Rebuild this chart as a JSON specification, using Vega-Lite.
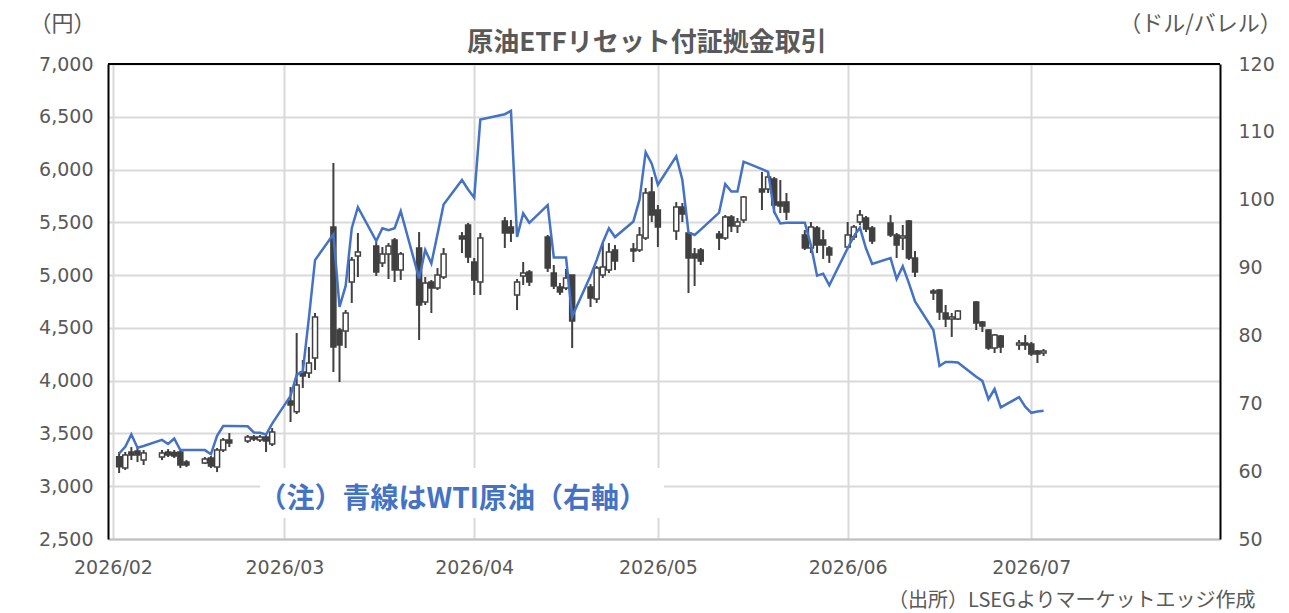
{
 "$schema": "https://vega.github.io/schema/vega-lite/v6.json",
 "width": 1112,
 "height": 475,
 "autosize": {"type": "none"},
 "padding": {"left": 108, "top": 64, "right": 69, "bottom": 74},
 "background": "white",
 "config": {"view": {"stroke": null}, "font": "DejaVu Sans"},
 "title": {"text": "原油ETFリセット付証拠金取引", "font": "Noto Sans CJK JP", "fontSize": 26, "fontWeight": "bold", "color": "#595959", "anchor": "middle", "offset": 10, "dx": -17, "dy": 54},
 "datasets": {
  "etf": [
   {"date":"2026-02-02","o":3280,"h":3324,"l":3125,"c":3185},
   {"date":"2026-02-03","o":3172,"h":3324,"l":3154,"c":3296},
   {"date":"2026-02-04","o":3324,"h":3371,"l":3248,"c":3296},
   {"date":"2026-02-05","o":3334,"h":3371,"l":3229,"c":3296},
   {"date":"2026-02-06","o":3248,"h":3343,"l":3201,"c":3315},
   {"date":"2026-02-09","o":3277,"h":3343,"l":3248,"c":3315},
   {"date":"2026-02-10","o":3324,"h":3352,"l":3277,"c":3296},
   {"date":"2026-02-11","o":3319,"h":3343,"l":3267,"c":3286},
   {"date":"2026-02-12","o":3324,"h":3343,"l":3172,"c":3201},
   {"date":"2026-02-13","o":3229,"h":3248,"l":3182,"c":3201},
   {"date":"2026-02-16","o":3220,"h":3277,"l":3210,"c":3258},
   {"date":"2026-02-17","o":3267,"h":3286,"l":3172,"c":3192},
   {"date":"2026-02-18","o":3182,"h":3362,"l":3134,"c":3343},
   {"date":"2026-02-19","o":3343,"h":3457,"l":3324,"c":3438},
   {"date":"2026-02-20","o":3438,"h":3504,"l":3371,"c":3409},
   {"date":"2026-02-23","o":3428,"h":3485,"l":3409,"c":3466},
   {"date":"2026-02-24","o":3466,"h":3485,"l":3428,"c":3447},
   {"date":"2026-02-25","o":3438,"h":3485,"l":3419,"c":3466},
   {"date":"2026-02-26","o":3466,"h":3485,"l":3324,"c":3428},
   {"date":"2026-02-27","o":3400,"h":3551,"l":3381,"c":3514},
   {"date":"2026-03-02","o":3807,"h":3940,"l":3608,"c":3769},
   {"date":"2026-03-03","o":3706,"h":4452,"l":3684,"c":3959},
   {"date":"2026-03-04","o":4082,"h":4196,"l":3930,"c":4044},
   {"date":"2026-03-05","o":4073,"h":4319,"l":4025,"c":4167},
   {"date":"2026-03-06","o":4215,"h":4641,"l":4101,"c":4603},
   {"date":"2026-03-09","o":5456,"h":6062,"l":4082,"c":4319},
   {"date":"2026-03-10","o":4480,"h":4499,"l":3987,"c":4338},
   {"date":"2026-03-11","o":4470,"h":4669,"l":4309,"c":4641},
   {"date":"2026-03-12","o":4935,"h":5172,"l":4736,"c":5143},
   {"date":"2026-03-13","o":5181,"h":5399,"l":4982,"c":5219},
   {"date":"2026-03-16","o":5276,"h":5314,"l":4992,"c":5030},
   {"date":"2026-03-17","o":5115,"h":5266,"l":5077,"c":5200},
   {"date":"2026-03-18","o":5200,"h":5304,"l":4963,"c":5276},
   {"date":"2026-03-19","o":5333,"h":5352,"l":4935,"c":5048},
   {"date":"2026-03-20","o":5048,"h":5219,"l":4954,"c":5200},
   {"date":"2026-03-23","o":5257,"h":5408,"l":4385,"c":4717},
   {"date":"2026-03-24","o":4745,"h":4982,"l":4717,"c":4925},
   {"date":"2026-03-25","o":4935,"h":4954,"l":4641,"c":4878},
   {"date":"2026-03-26","o":4878,"h":5067,"l":4859,"c":5001},
   {"date":"2026-03-27","o":4982,"h":5257,"l":4963,"c":5200},
   {"date":"2026-03-30","o":5370,"h":5408,"l":5209,"c":5342},
   {"date":"2026-03-31","o":5475,"h":5494,"l":5115,"c":5172},
   {"date":"2026-04-01","o":5124,"h":5162,"l":4812,"c":4954},
   {"date":"2026-04-02","o":4935,"h":5399,"l":4812,"c":5352},
   {"date":"2026-04-06","o":5513,"h":5550,"l":5257,"c":5399},
   {"date":"2026-04-07","o":5456,"h":5522,"l":5314,"c":5399},
   {"date":"2026-04-08","o":4812,"h":4963,"l":4669,"c":4935},
   {"date":"2026-04-09","o":4992,"h":5124,"l":4906,"c":5020},
   {"date":"2026-04-10","o":5030,"h":5048,"l":4897,"c":4935},
   {"date":"2026-04-13","o":5361,"h":5380,"l":5030,"c":5067},
   {"date":"2026-04-14","o":5020,"h":5096,"l":4868,"c":4897},
   {"date":"2026-04-15","o":4887,"h":4925,"l":4812,"c":4840},
   {"date":"2026-04-16","o":4878,"h":5058,"l":4859,"c":4973},
   {"date":"2026-04-17","o":5001,"h":5001,"l":4309,"c":4565},
   {"date":"2026-04-20","o":4887,"h":4916,"l":4698,"c":4783},
   {"date":"2026-04-21","o":4774,"h":5086,"l":4736,"c":5067},
   {"date":"2026-04-22","o":5001,"h":5304,"l":4973,"c":5077},
   {"date":"2026-04-23","o":5048,"h":5304,"l":5020,"c":5219},
   {"date":"2026-04-24","o":5238,"h":5285,"l":5048,"c":5134},
   {"date":"2026-04-27","o":5247,"h":5304,"l":5124,"c":5228},
   {"date":"2026-04-28","o":5238,"h":5456,"l":5219,"c":5380},
   {"date":"2026-04-29","o":5351,"h":5825,"l":5333,"c":5778},
   {"date":"2026-04-30","o":5787,"h":5929,"l":5503,"c":5569},
   {"date":"2026-05-01","o":5617,"h":5664,"l":5266,"c":5456},
   {"date":"2026-05-04","o":5418,"h":5692,"l":5333,"c":5645},
   {"date":"2026-05-05","o":5645,"h":5683,"l":5503,"c":5579},
   {"date":"2026-05-06","o":5399,"h":5408,"l":4830,"c":5162},
   {"date":"2026-05-07","o":5200,"h":5257,"l":4897,"c":5162},
   {"date":"2026-05-08","o":5238,"h":5257,"l":5096,"c":5134},
   {"date":"2026-05-11","o":5389,"h":5418,"l":5238,"c":5352},
   {"date":"2026-05-12","o":5352,"h":5569,"l":5333,"c":5550},
   {"date":"2026-05-13","o":5550,"h":5569,"l":5408,"c":5465},
   {"date":"2026-05-14","o":5465,"h":5541,"l":5399,"c":5503},
   {"date":"2026-05-15","o":5522,"h":5749,"l":5494,"c":5740},
   {"date":"2026-05-18","o":5816,"h":5977,"l":5617,"c":5787},
   {"date":"2026-05-19","o":5816,"h":5977,"l":5778,"c":5929},
   {"date":"2026-05-20","o":5910,"h":5929,"l":5588,"c":5664},
   {"date":"2026-05-21","o":5692,"h":5901,"l":5588,"c":5655},
   {"date":"2026-05-22","o":5692,"h":5778,"l":5522,"c":5598},
   {"date":"2026-05-25","o":5380,"h":5427,"l":5238,"c":5257},
   {"date":"2026-05-26","o":5257,"h":5503,"l":5209,"c":5456},
   {"date":"2026-05-27","o":5446,"h":5465,"l":5209,"c":5285},
   {"date":"2026-05-28","o":5333,"h":5427,"l":5153,"c":5285},
   {"date":"2026-05-29","o":5257,"h":5276,"l":5115,"c":5191},
   {"date":"2026-06-01","o":5266,"h":5503,"l":5257,"c":5380},
   {"date":"2026-06-02","o":5361,"h":5475,"l":5333,"c":5456},
   {"date":"2026-06-03","o":5503,"h":5617,"l":5475,"c":5569},
   {"date":"2026-06-04","o":5541,"h":5560,"l":5408,"c":5437},
   {"date":"2026-06-05","o":5446,"h":5465,"l":5295,"c":5323},
   {"date":"2026-06-08","o":5494,"h":5569,"l":5361,"c":5380},
   {"date":"2026-06-09","o":5380,"h":5399,"l":5162,"c":5285},
   {"date":"2026-06-10","o":5352,"h":5475,"l":5238,"c":5370},
   {"date":"2026-06-11","o":5513,"h":5522,"l":5143,"c":5162},
   {"date":"2026-06-12","o":5162,"h":5228,"l":4982,"c":5030},
   {"date":"2026-06-15","o":4849,"h":4868,"l":4764,"c":4830},
   {"date":"2026-06-16","o":4859,"h":4868,"l":4575,"c":4651},
   {"date":"2026-06-17","o":4641,"h":4717,"l":4508,"c":4584},
   {"date":"2026-06-18","o":4584,"h":4641,"l":4414,"c":4603},
   {"date":"2026-06-19","o":4584,"h":4669,"l":4575,"c":4660},
   {"date":"2026-06-22","o":4745,"h":4754,"l":4480,"c":4546},
   {"date":"2026-06-23","o":4556,"h":4565,"l":4461,"c":4518},
   {"date":"2026-06-24","o":4480,"h":4489,"l":4291,"c":4309},
   {"date":"2026-06-25","o":4309,"h":4442,"l":4262,"c":4433},
   {"date":"2026-06-26","o":4423,"h":4433,"l":4262,"c":4319},
   {"date":"2026-06-29","o":4338,"h":4385,"l":4291,"c":4357},
   {"date":"2026-06-30","o":4357,"h":4433,"l":4291,"c":4338},
   {"date":"2026-07-01","o":4347,"h":4366,"l":4234,"c":4253},
   {"date":"2026-07-02","o":4281,"h":4291,"l":4167,"c":4253},
   {"date":"2026-07-03","o":4262,"h":4300,"l":4234,"c":4281}
  ],
  "wti": [
   {"date":"2026-02-02","wti":62.6},{"date":"2026-02-03","wti":63.6},{"date":"2026-02-04","wti":65.4},{"date":"2026-02-05","wti":63.45},{"date":"2026-02-06","wti":63.7},
   {"date":"2026-02-09","wti":64.6},{"date":"2026-02-10","wti":64.0},{"date":"2026-02-11","wti":64.8},{"date":"2026-02-12","wti":63.1},{"date":"2026-02-13","wti":63.1},
   {"date":"2026-02-16","wti":63.1},{"date":"2026-02-17","wti":62.5},{"date":"2026-02-18","wti":65.2},{"date":"2026-02-19","wti":66.65},{"date":"2026-02-20","wti":66.65},
   {"date":"2026-02-23","wti":66.6},{"date":"2026-02-24","wti":65.7},{"date":"2026-02-25","wti":65.65},{"date":"2026-02-26","wti":65.4},{"date":"2026-02-27","wti":67.0},
   {"date":"2026-03-02","wti":71.1},{"date":"2026-03-03","wti":74.2},{"date":"2026-03-04","wti":74.7},{"date":"2026-03-05","wti":82.6},{"date":"2026-03-06","wti":91.1},
   {"date":"2026-03-09","wti":94.9},{"date":"2026-03-10","wti":84.2},{"date":"2026-03-11","wti":87.3},{"date":"2026-03-12","wti":95.8},{"date":"2026-03-13","wti":98.9},
   {"date":"2026-03-16","wti":93.9},{"date":"2026-03-17","wti":95.8},{"date":"2026-03-18","wti":95.5},{"date":"2026-03-19","wti":95.8},{"date":"2026-03-20","wti":98.3},
   {"date":"2026-03-23","wti":88.4},{"date":"2026-03-24","wti":92.6},{"date":"2026-03-25","wti":90.6},{"date":"2026-03-26","wti":94.9},{"date":"2026-03-27","wti":99.3},
   {"date":"2026-03-30","wti":102.9},{"date":"2026-03-31","wti":101.5},{"date":"2026-04-01","wti":100.3},{"date":"2026-04-02","wti":111.8},
   {"date":"2026-04-06","wti":112.6},{"date":"2026-04-07","wti":113.1},{"date":"2026-04-08","wti":94.5},{"date":"2026-04-09","wti":98.0},{"date":"2026-04-10","wti":96.6},
   {"date":"2026-04-13","wti":99.2},{"date":"2026-04-14","wti":91.5},{"date":"2026-04-15","wti":91.5},{"date":"2026-04-16","wti":91.5},{"date":"2026-04-17","wti":82.8},
   {"date":"2026-04-20","wti":88.8},{"date":"2026-04-21","wti":91.1},{"date":"2026-04-22","wti":93.7},{"date":"2026-04-23","wti":95.8},{"date":"2026-04-24","wti":94.5},
   {"date":"2026-04-27","wti":96.8},{"date":"2026-04-28","wti":100.0},{"date":"2026-04-29","wti":107.0},{"date":"2026-04-30","wti":105.3},{"date":"2026-05-01","wti":102.2},
   {"date":"2026-05-04","wti":106.4},{"date":"2026-05-05","wti":102.9},{"date":"2026-05-06","wti":95.2},{"date":"2026-05-07","wti":94.8},{"date":"2026-05-08","wti":95.6},
   {"date":"2026-05-11","wti":98.1},{"date":"2026-05-12","wti":102.3},{"date":"2026-05-13","wti":101.2},{"date":"2026-05-14","wti":101.2},{"date":"2026-05-15","wti":105.6},
   {"date":"2026-05-18","wti":104.5},{"date":"2026-05-19","wti":104.1},{"date":"2026-05-20","wti":98.2},{"date":"2026-05-21","wti":96.5},{"date":"2026-05-22","wti":96.6},
   {"date":"2026-05-25","wti":96.6},{"date":"2026-05-26","wti":93.3},{"date":"2026-05-27","wti":88.8},{"date":"2026-05-28","wti":89.1},{"date":"2026-05-29","wti":87.4},
   {"date":"2026-06-01","wti":92.85},{"date":"2026-06-02","wti":94.6},{"date":"2026-06-03","wti":95.9},{"date":"2026-06-04","wti":92.8},{"date":"2026-06-05","wti":90.55},
   {"date":"2026-06-08","wti":91.4},{"date":"2026-06-09","wti":88.3},{"date":"2026-06-10","wti":90.2},{"date":"2026-06-11","wti":87.7},{"date":"2026-06-12","wti":85.0},
   {"date":"2026-06-15","wti":80.8},{"date":"2026-06-16","wti":75.5},{"date":"2026-06-17","wti":76.1},{"date":"2026-06-18","wti":76.1},{"date":"2026-06-19","wti":76.0},
   {"date":"2026-06-22","wti":73.9},{"date":"2026-06-23","wti":73.3},{"date":"2026-06-24","wti":70.6},{"date":"2026-06-25","wti":72.1},{"date":"2026-06-26","wti":69.4},
   {"date":"2026-06-29","wti":70.9},{"date":"2026-06-30","wti":69.5},{"date":"2026-07-01","wti":68.6},{"date":"2026-07-02","wti":68.8},{"date":"2026-07-03","wti":68.9}
  ]
 },
 "layer": [
  {
   "layer": [
    {
     "data": {"name": "etf"},
     "mark": {"type": "rule", "color": "#404040", "strokeWidth": 2},
     "encoding": {
      "x": {"field": "date", "type": "temporal",
            "scale": {"type": "utc", "domain": [{"year": 2026, "month": 2, "date": 1, "utc": true}, {"year": 2026, "month": 7, "date": 31, "utc": true}]},
            "axis": {"orient": "bottom", "labelExpr": "utcFormat(datum.value, '%Y/%m')",
                     "values": [{"year": 2026, "month": 2, "date": 1, "utc": true}, {"year": 2026, "month": 3, "date": 1, "utc": true}, {"year": 2026, "month": 4, "date": 1, "utc": true}, {"year": 2026, "month": 5, "date": 1, "utc": true}, {"year": 2026, "month": 6, "date": 1, "utc": true}, {"year": 2026, "month": 7, "date": 1, "utc": true}],
                     "labelFontSize": 19, "labelColor": "#595959", "labelPadding": 19, "labelFlush": false, "labelOverlap": false,
                     "ticks": false, "domainColor": "#bfbfbf", "domainWidth": 2,
                     "grid": true, "gridColor": "#d9d9d9", "gridWidth": 2,
                     "title": "（出所）LSEGよりマーケットエッジ作成", "titleFont": "Noto Sans CJK JP", "titleFontSize": 20, "titleFontWeight": "normal", "titleColor": "#595959",
                     "titleAnchor": "end", "titleAlign": "right", "titleBaseline": "middle", "titleX": 1147, "titleY": 61}},
      "y": {"field": "l", "type": "quantitative",
            "scale": {"domain": [2500, 7000], "nice": false, "zero": false},
            "axis": {"values": [2500, 3000, 3500, 4000, 4500, 5000, 5500, 6000, 6500, 7000], "labelExpr": "format(datum.value, ',')",
                     "labelFontSize": 19, "labelColor": "#595959", "labelPadding": 15, "ticks": false,
                     "domainColor": "black", "domainWidth": 2,
                     "grid": true, "gridColor": "#d9d9d9", "gridWidth": 2,
                     "title": "（円）", "titleFont": "Noto Sans CJK JP", "titleFontSize": 22, "titleFontWeight": "normal", "titleColor": "#595959",
                     "titleAngle": 0, "titleAlign": "center", "titleBaseline": "middle", "titleX": -46, "titleY": -41}},
      "y2": {"field": "h"}
     }
    },
    {
     "data": {"name": "etf"},
     "mark": {"type": "bar", "size": 5, "stroke": "#404040", "strokeWidth": 1.5},
     "encoding": {
      "x": {"field": "date", "type": "temporal"},
      "y": {"field": "o", "type": "quantitative"},
      "y2": {"field": "c"},
      "fill": {"condition": {"test": "datum.o > datum.c", "value": "#404040"}, "value": "#ffffff"}
     }
    },
    {
     "data": {"values": [{}]},
     "mark": {"type": "rule", "color": "black", "strokeWidth": 2},
     "encoding": {"y": {"datum": 7000, "type": "quantitative"}}
    },
    {
     "data": {"values": [{}]},
     "mark": {"type": "rect", "fill": "white"},
     "encoding": {
      "x": {"datum": {"year": 2026, "month": 2, "date": 25, "utc": true}, "type": "temporal"},
      "x2": {"datum": {"year": 2026, "month": 5, "date": 2, "utc": true}},
      "y": {"datum": 2700, "type": "quantitative"},
      "y2": {"datum": 3172}
     }
    },
    {
     "data": {"values": [{}]},
     "mark": {"type": "text", "text": "（注）青線はWTI原油（右軸）", "font": "Noto Sans CJK JP", "fontSize": 28, "fontWeight": "bold", "color": "#4472C4", "align": "center", "baseline": "middle"},
     "encoding": {
      "x": {"datum": {"year": 2026, "month": 3, "date": 28, "hours": 12, "utc": true}, "type": "temporal"},
      "y": {"datum": 2869, "type": "quantitative"}
     }
    }
   ]
  },
  {
   "data": {"name": "wti"},
   "mark": {"type": "line", "color": "#4472C4", "strokeWidth": 2.5},
   "encoding": {
    "x": {"field": "date", "type": "temporal"},
    "y": {"field": "wti", "type": "quantitative",
          "scale": {"domain": [50, 120], "nice": false, "zero": false},
          "axis": {"orient": "right", "values": [50, 60, 70, 80, 90, 100, 110, 120],
                   "labelFontSize": 19, "labelColor": "#595959", "labelPadding": 18, "ticks": false,
                   "domainColor": "black", "domainWidth": 2, "grid": false,
                   "title": "（ドル/バレル）", "titleFont": "Noto Sans CJK JP", "titleFontSize": 22, "titleFontWeight": "normal", "titleColor": "#595959",
                   "titleAngle": 0, "titleAlign": "center", "titleBaseline": "middle", "titleX": -20, "titleY": -41}}
   }
  }
 ],
 "resolve": {"scale": {"y": "independent"}}
}
